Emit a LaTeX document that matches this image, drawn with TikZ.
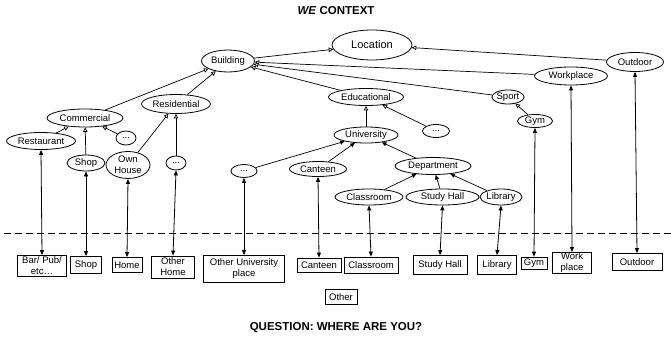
\documentclass[tikz,border=0pt]{standalone}
\usepackage{fontspec}
\setmainfont{Liberation Sans}
\usetikzlibrary{shapes.geometric,arrows.meta}
\begin{document}
\begin{tikzpicture}[x=1pt,y=-1pt,
  every node/.style={font=\fontsize{9.5}{11}\selectfont},
  ell/.style={ellipse,draw,line width=0.8pt,inner sep=0pt},
  box/.style={rectangle,draw,line width=0.8pt,inner sep=0pt,align=center},
  isa/.style={line width=0.7pt,-{Triangle[open,length=4.5pt,width=4.5pt]}},
  partof/.style={line width=0.7pt,-{Triangle[length=4.5pt,width=4pt]}},
  link/.style={line width=0.8pt,{Triangle[length=5pt,width=4pt]}-{Triangle[length=5pt,width=4pt]}},
  heading/.style={font=\fontsize{11.5}{13}\selectfont\bfseries}
]
\useasboundingbox (0,0) rectangle (671,339);

% headings
\node[heading] (title) at (336,11) {\textit{WE} CONTEXT};
\node[heading] (question) at (336,328) {QUESTION: WHERE ARE YOU?};

% concept ellipses
\node[ell,minimum width=80pt,minimum height=30pt,font=\fontsize{11}{13}\selectfont] (loc) at (372,45) {Location};
\node[ell,minimum width=53pt,minimum height=22pt] (bld) at (228,61) {Building};
\node[ell,minimum width=57pt,minimum height=19pt] (outd) at (635,62) {Outdoor};
\node[ell,minimum width=73pt,minimum height=18pt] (work) at (571,76) {Workplace};
\node[ell,minimum width=75pt,minimum height=17pt] (edu) at (366,97) {Educational};
\node[ell,minimum width=30pt,minimum height=14pt] (sport) at (508,97) {Sport};
\node[ell,minimum width=76pt,minimum height=18pt] (comm) at (85,118) {Commercial};
\node[ell,minimum width=69pt,minimum height=19pt] (res) at (176,104) {Residential};
\node[ell,minimum width=69pt,minimum height=17pt] (rest) at (41,141) {Restaurant};
\node[ell,minimum width=20pt,minimum height=14pt] (cdots) at (126,138) {...};
\node[ell,minimum width=38pt,minimum height=16pt] (shop) at (86,163) {Shop};
\node[ell,minimum width=44pt,minimum height=27pt,align=center] (own) at (128,165) {Own\\House};
\node[ell,minimum width=20pt,minimum height=14pt] (rdots) at (176,163) {...};
\node[ell,minimum width=35pt,minimum height=13pt] (gym) at (535,121) {Gym};
\node[ell,minimum width=27pt,minimum height=13pt] (edots) at (436,131) {...};
\node[ell,minimum width=64pt,minimum height=16pt] (uni) at (366,135) {University};
\node[ell,minimum width=26pt,minimum height=13pt] (udots) at (244,171) {...};
\node[ell,minimum width=57pt,minimum height=15pt] (cant) at (318,169) {Canteen};
\node[ell,minimum width=76pt,minimum height=17pt] (dept) at (433,166) {Department};
\node[ell,minimum width=68pt,minimum height=16pt] (class) at (369,197) {Classroom};
\node[ell,minimum width=73pt,minimum height=16pt] (study) at (442.5,197) {Study Hall};
\node[ell,minimum width=42pt,minimum height=16pt] (lib) at (501,197) {Library};

% answer boxes
\node[box,minimum width=49pt,minimum height=21pt] (bbar) at (42,266) {Bar/ Pub/\\etc…};
\node[box,minimum width=31pt,minimum height=17pt] (bshop) at (86,265) {Shop};
\node[box,minimum width=30pt,minimum height=15pt] (bhome) at (127,265) {Home};
\node[box,minimum width=43pt,minimum height=22pt] (bohome) at (173,267) {Other\\Home};
\node[box,minimum width=81pt,minimum height=27pt] (bouni) at (244,269) {Other University\\place};
\node[box,minimum width=44pt,minimum height=14pt] (bcant) at (319,265) {Canteen};
\node[box,minimum width=54pt,minimum height=16pt] (bclass) at (371,265) {Classroom};
\node[box,minimum width=54pt,minimum height=19pt] (bstudy) at (440,265) {Study Hall};
\node[box,minimum width=39pt,minimum height=19pt] (blib) at (497,265) {Library};
\node[box,minimum width=26pt,minimum height=12pt] (bgym) at (534,263) {Gym};
\node[box,minimum width=39pt,minimum height=21pt] (bwork) at (572,263) {Work\\place};
\node[box,minimum width=50pt,minimum height=17pt] (bout) at (637,262) {Outdoor};
\node[box,minimum width=32pt,minimum height=15pt] (bother) at (341,297) {Other};

% separator between ontology and answers
\draw[line width=0.8pt,dash pattern=on 7pt off 4pt] (4,233) -- (671,233);

% generalisation links
\draw[isa] (bld) -- (loc);
\draw[isa] (outd) -- (loc);
\draw[isa] (work) -- (bld);
\draw[isa] (sport) -- (bld);
\draw[isa] (edu) -- (bld);
\draw[isa] (comm) -- (bld);
\draw[isa] (res) -- (bld);
\draw[isa] (rest) -- (comm);
\draw[isa] (shop) -- (comm);
\draw[isa] (cdots) -- (comm);
\draw[isa] (own) -- (res);
\draw[isa] (rdots) -- (res);
\draw[isa] (uni) -- (edu);
\draw[isa] (edots) -- (edu);
\draw[isa] (gym) -- (sport);

% part-of links
\draw[partof] (udots) -- (uni);
\draw[partof] (cant) -- (uni);
\draw[partof] (dept) -- (uni);
\draw[partof] (class) -- (dept);
\draw[partof] (study) -- (dept);
\draw[partof] (lib) -- (dept);

% concept to answer mapping
\draw[link] (rest.south) -- (bbar.north);
\draw[link] (shop.south) -- (bshop.north);
\draw[link] (own.south) -- (bhome.north);
\draw[link] (rdots.south) -- (bohome.north);
\draw[link] (udots.south) -- (bouni.north);
\draw[link] (cant.south) -- (bcant.north);
\draw[link] (class.south) -- (bclass.north);
\draw[link] (study.south) -- (bstudy.north);
\draw[link] (lib.south) -- (blib.north);
\draw[link] (gym.south) -- (bgym.north);
\draw[link] (work.south) -- (bwork.north);
\draw[link] (outd.south) -- (bout.north);
\end{tikzpicture}
\end{document}
